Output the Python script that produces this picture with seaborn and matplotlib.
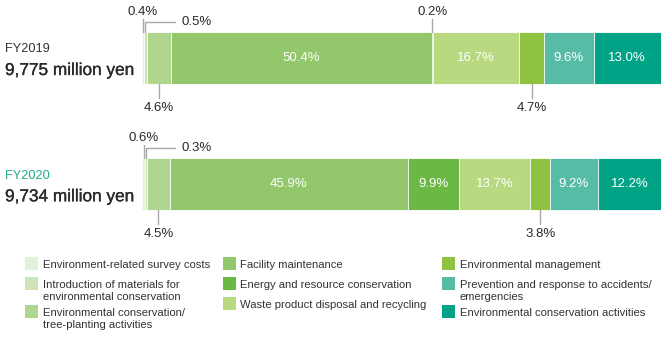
import matplotlib
matplotlib.use("Agg")
import matplotlib.pyplot as plt
import matplotlib.patheffects as pe
import seaborn as sns
import numpy as np
from matplotlib.patches import Rectangle

# ---------------- data ----------------
years = ["FY2019", "FY2020"]
totals = ["9,775 million yen", "9,734 million yen"]
categories = [
    "Environment-related survey costs",
    "Introduction of materials for\nenvironmental conservation",
    "Environmental conservation/\ntree-planting activities",
    "Facility maintenance",
    "Energy and resource conservation",
    "Waste product disposal and recycling",
    "Environmental management",
    "Prevention and response to accidents/\nemergencies",
    "Environmental conservation activities",
]
fy2019 = [0.4, 0.5, 4.6, 50.4, 0.2, 16.7, 4.7, 9.6, 13.0]
fy2020 = [0.6, 0.3, 4.5, 45.9, 9.9, 13.7, 3.8, 9.2, 12.2]

# ---------------- style ----------------
colors = ["#e4f1d8", "#cce4b7", "#afd58e", "#93c76b", "#6bb845",
          "#b9d980", "#8fc240", "#57bca6", "#00a385"]
# label placement per segment: in / up / elbow / down
place2019 = ["up", "elbow", "down", "in", "up", "in", "down", "in", "in"]
place2020 = ["up", "elbow", "down", "in", "in", "in", "down", "in", "in"]
year_colors = ["#333333", "#1fab8c"]

sns.set_theme(style="white")
plt.rcParams["font.family"] = ["Liberation Sans", "DejaVu Sans"]

W, H = 666, 337
fig = plt.figure(figsize=(W / 100, H / 100), dpi=100)

def fx(p):
    return p / W

def fy(p):
    return 1 - p / H

# axes spans pixel x 142..661, pixel y 0..240
ax = fig.add_axes([fx(142), fy(240), 519 / W, 240 / H])

spacing = 126.3
c0 = 58.0
def py(p):
    return (p - c0) / spacing

values = [fy2019, fy2020]
cum = np.cumsum(np.array(values), axis=1)

for i in range(len(categories) - 1, -1, -1):
    sns.barplot(x=cum[:, i], y=years, color=colors[i], orient="h",
                width=52 / spacing, saturation=1, edgecolor="white",
                linewidth=0.6, ax=ax)

xmax = cum[:, -1].max()
ax.set_xlim(0, xmax)
ax.set_ylim(py(240), py(0))
ax.axis("off")

text_c = "#2a2a2a"
line_c = "#a8a8a8"
lab_fs = 9.5

for r, (vals, places) in enumerate(zip(values, [place2019, place2020])):
    starts = np.concatenate([[0], np.cumsum(vals)[:-1]])
    top = r - 26 / spacing
    bot = r + 26 / spacing
    for v, s, pl in zip(vals, starts, places):
        cx = s + v / 2
        lab = f"{v:.1f}%"
        if pl == "in":
            ax.text(cx, r, lab, color="white", fontsize=lab_fs,
                    ha="center", va="center")
        elif pl == "up":
            ax.plot([cx, cx], [top, top - 13 / spacing], color=line_c,
                    lw=1, clip_on=False)
            ax.text(cx, top - 20 / spacing, lab, color=text_c,
                    fontsize=lab_fs, ha="center", va="center")
        elif pl == "down":
            ax.plot([cx, cx], [bot, bot + 14 / spacing], color=line_c,
                    lw=1, clip_on=False)
            ax.text(cx, bot + 24 / spacing, lab, color=text_c,
                    fontsize=lab_fs, ha="center", va="center")
        elif pl == "elbow":
            ey = top - 10 / spacing
            ex = xmax * (175 - 142) / 519
            ax.plot([cx, cx, ex], [top, ey, ey], color=line_c,
                    lw=1, clip_on=False)
            ax.text(xmax * (181 - 142) / 519, ey, lab, color=text_c,
                    fontsize=lab_fs, ha="left", va="center")

# left titles
for r in range(2):
    yc = c0 + r * spacing
    fig.text(fx(5), fy(yc - 8.5), years[r], color=year_colors[r],
             fontsize=9.2, ha="left", va="center")
    fig.text(fx(5), fy(yc + 12.5), totals[r], color=text_c,
             fontsize=12.4, ha="left", va="center",
             path_effects=[pe.withStroke(linewidth=0.22, foreground=text_c)])

# legend (manual, three columns)
sq_x = [25, 222.5, 442]
tx_x = [43, 240.5, 459.5]
row_y = [[264.5, 284.3, 312.3], [264.5, 284.3, 304.3], [264.5, 284.3, 312.3]]
sq = 13.3
for k, (lab, col) in enumerate(zip(categories, colors)):
    c, rr = divmod(k, 3)
    y = row_y[c][rr]
    fig.patches.append(Rectangle((fx(sq_x[c]), fy(y - 1 + sq / 2)), sq / W, sq / H,
                                 transform=fig.transFigure, facecolor=col,
                                 edgecolor="none"))
    fig.text(fx(tx_x[c]), fy(y - 4.6), lab, color="#333333", fontsize=8.1,
             ha="left", va="top", linespacing=1.33)

fig.savefig("out.png", dpi=100)
